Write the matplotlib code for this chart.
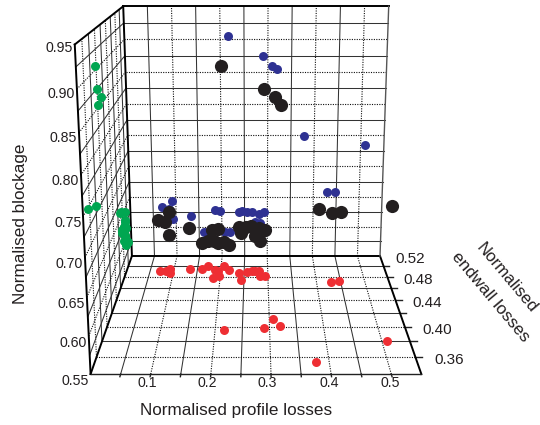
import numpy as np
import matplotlib
matplotlib.use("Agg")
import matplotlib.pyplot as plt

plt.rcParams['font.family'] = ['Liberation Sans', 'DejaVu Sans']

# Each design: profile losses, endwall losses, blockage
profile = [.216, .289, .308, .319, .378, .509, .430, .448,
           .070, .0845, .092, .0925, .133, .1605, .1715, .187, .194, .207, .218,
           .185, .197, .2386, .2445, .255, .2656, .2816, .293, .273, .284]
endwall = [.396, .399, .4116, .4014, .354, .380, .471, .473,
           .4906, .4912, .4952, .487, .494, .495, .500, .493, .491, .500, .4935,
           .478, .481, .487, .4735, .488, .490, .490, .481, .490, .481]
blockage = [.905, .8746, .8596, .854, .749, .734, .6585, .658,
            .633, .630, .643, .6125, .618, .5916, .592, .5977, .595, .590, .590,
            .627, .626, .624, .6255, .6245, .624, .621, .6245, .607, .6065]

x_major = [.1, .2, .3, .4, .5]
y_major = [.36, .40, .44, .48, .52]
z_major = [.55, .60, .65, .70, .75, .80, .85, .90, .95]
x_labels = ['0.1', '0.2', '0.3', '0.4', '0.5']
y_labels = ['0.36', '0.40', '0.44', '0.48', '0.52']
z_labels = ['0.55', '0.60', '0.65', '0.70', '0.75', '0.80', '0.85', '0.90', '0.95']

X0, X1 = 0.0, 0.55
Y0, Y1 = 0.34, 0.52
Z0, Z1 = 0.55, 0.95
x_grid = np.round(np.arange(0.05, 0.5501, 0.05), 3)
y_grid = np.round(np.arange(0.36, 0.5201, 0.02), 3)
z_grid = np.round(np.arange(0.575, 0.9501, 0.025), 3)

W, H = 540, 425
fig = plt.figure(figsize=(W / 100, H / 100), dpi=100, facecolor='white')
S = 500.4
ax = fig.add_axes([-1 / W, -2 / H, S / W, S / H], projection='3d', computed_zorder=False)
ax.set_box_aspect((1.01, 1.043, 1.008))
ax.view_init(elev=15.18, azim=-90)
ax.set_proj_type('persp', focal_length=0.3658)
ax.set_xlim(X0, X1)
ax.set_ylim(Y0, Y1)
ax.set_zlim(Z0, Z1)
ax.set_axis_off()
ax.patch.set_alpha(0)

SOLID = dict(color='#333333', lw=0.75, ls='-', zorder=1)
DOT = dict(color='#111111', lw=0.8, ls=(0, (1, 1.2)), zorder=1)
EDGE = dict(color='black', lw=1.4, zorder=2)
THIN = dict(color='#222222', lw=1.0, zorder=2)


def is_major(v, majors):
    return any(abs(v - m) < 1e-6 for m in majors)


# back wall and floor: lines of constant profile loss
for v in x_grid[:-1]:
    st = DOT if is_major(v, x_major) else SOLID
    ax.plot([v, v], [Y1, Y1], [Z0, Z1], **st)
    ax.plot([v, v], [Y0, Y1], [Z0, Z0], **st)
    ax.plot([v, v], [Y0 - 0.003, Y0], [Z0, Z0], **THIN)
# floor and left wall: lines of constant endwall loss
for v in y_grid[:-1]:
    st = DOT if is_major(v, y_major) else SOLID
    ax.plot([X0, X1], [v, v], [Z0, Z0], **st)
    ax.plot([X0, X0], [v, v], [Z0, Z1], **st)
    ax.plot([X1, X1 + 0.012], [v, v], [Z0, Z0], **THIN)
# back and left walls: lines of constant blockage
for v in z_grid[:-1]:
    st = DOT if is_major(v, z_major) else SOLID
    ax.plot([X0, X1], [Y1, Y1], [v, v], **st)
    ax.plot([X0, X0], [Y0, Y1], [v, v], **st)

# frame
ax.plot([X0, X1], [Y1, Y1], [Z1, Z1], **EDGE)
ax.plot([X0, X1], [Y1, Y1], [Z0, Z0], **EDGE)
ax.plot([X0, X0], [Y0, Y1], [Z1, Z1], **EDGE)
ax.plot([X0, X0], [Y0, Y0], [Z0, Z1], **EDGE)
ax.plot([X0, X0], [Y1, Y1], [Z0, Z1], **EDGE)
ax.plot([X0, X0], [Y0, Y1], [Z0, Z0], **EDGE)
ax.plot([X1, X1], [Y0, Y1], [Z0, Z0], **EDGE)
ax.plot([X0, X1], [Y0, Y0], [Z0, Z0], **THIN)
ax.plot([X1, X1], [Y1, Y1], [Z0, Z1], color='#555555', lw=1.0, zorder=2)

px = np.array(profile)
py = np.array(endwall)
pz = np.array(blockage)
ax.scatter(px, np.full_like(py, Y1), pz, s=42, c='#2e3192', linewidths=0, depthshade=False, zorder=3)
ax.scatter(np.full_like(px, X0), py, pz, s=42, c='#00a651', linewidths=0, depthshade=False, zorder=4)
ax.scatter(px, py, np.full_like(pz, Z0), s=42, c='#ee2e33', linewidths=0, depthshade=False, zorder=5)
ax.scatter(px, py, pz, s=90, c='#231f20', linewidths=0, depthshade=False, zorder=6)


def label(xp, yp, s, **kw):
    kw.setdefault('fontsize', 10.2)
    kw.setdefault('color', '#231f20')
    fig.text(xp / W, 1 - yp / H, s, **kw)


z_pos = [(89, 381), (87, 342.7), (85, 303.7), (83, 263.7), (81.5, 223), (79, 181), (77, 137.5), (75, 93.5), (73, 48)]
for (a, b), s in zip(z_pos, z_labels):
    label(a, b, s, ha='right', va='center')
x_pos = [147, 207.7, 267.5, 329.3, 390]
for a, s in zip(x_pos, x_labels):
    label(a, 383, s, ha='center', va='center')
y_pos = [(434.7, 359.7), (422.7, 329.7), (412.7, 302.7), (403.3, 279.7), (395, 258.7)]
for (a, b), s in zip(y_pos, y_labels):
    label(a, b, s, ha='left', va='center', fontsize=11)

label(236.5, 411, 'Normalised profile losses', ha='center', va='center', fontsize=12.3)
label(21, 224, 'Normalised blockage', ha='center', va='center', rotation=90, fontsize=12.3)
label(506.5, 278, 'Normalised', ha='center', va='center', rotation=-50, rotation_mode='anchor', fontsize=12.2)
label(490, 297, 'endwall losses', ha='center', va='center', rotation=-50, rotation_mode='anchor', fontsize=12.3)

fig.savefig('out.png', dpi=100)
